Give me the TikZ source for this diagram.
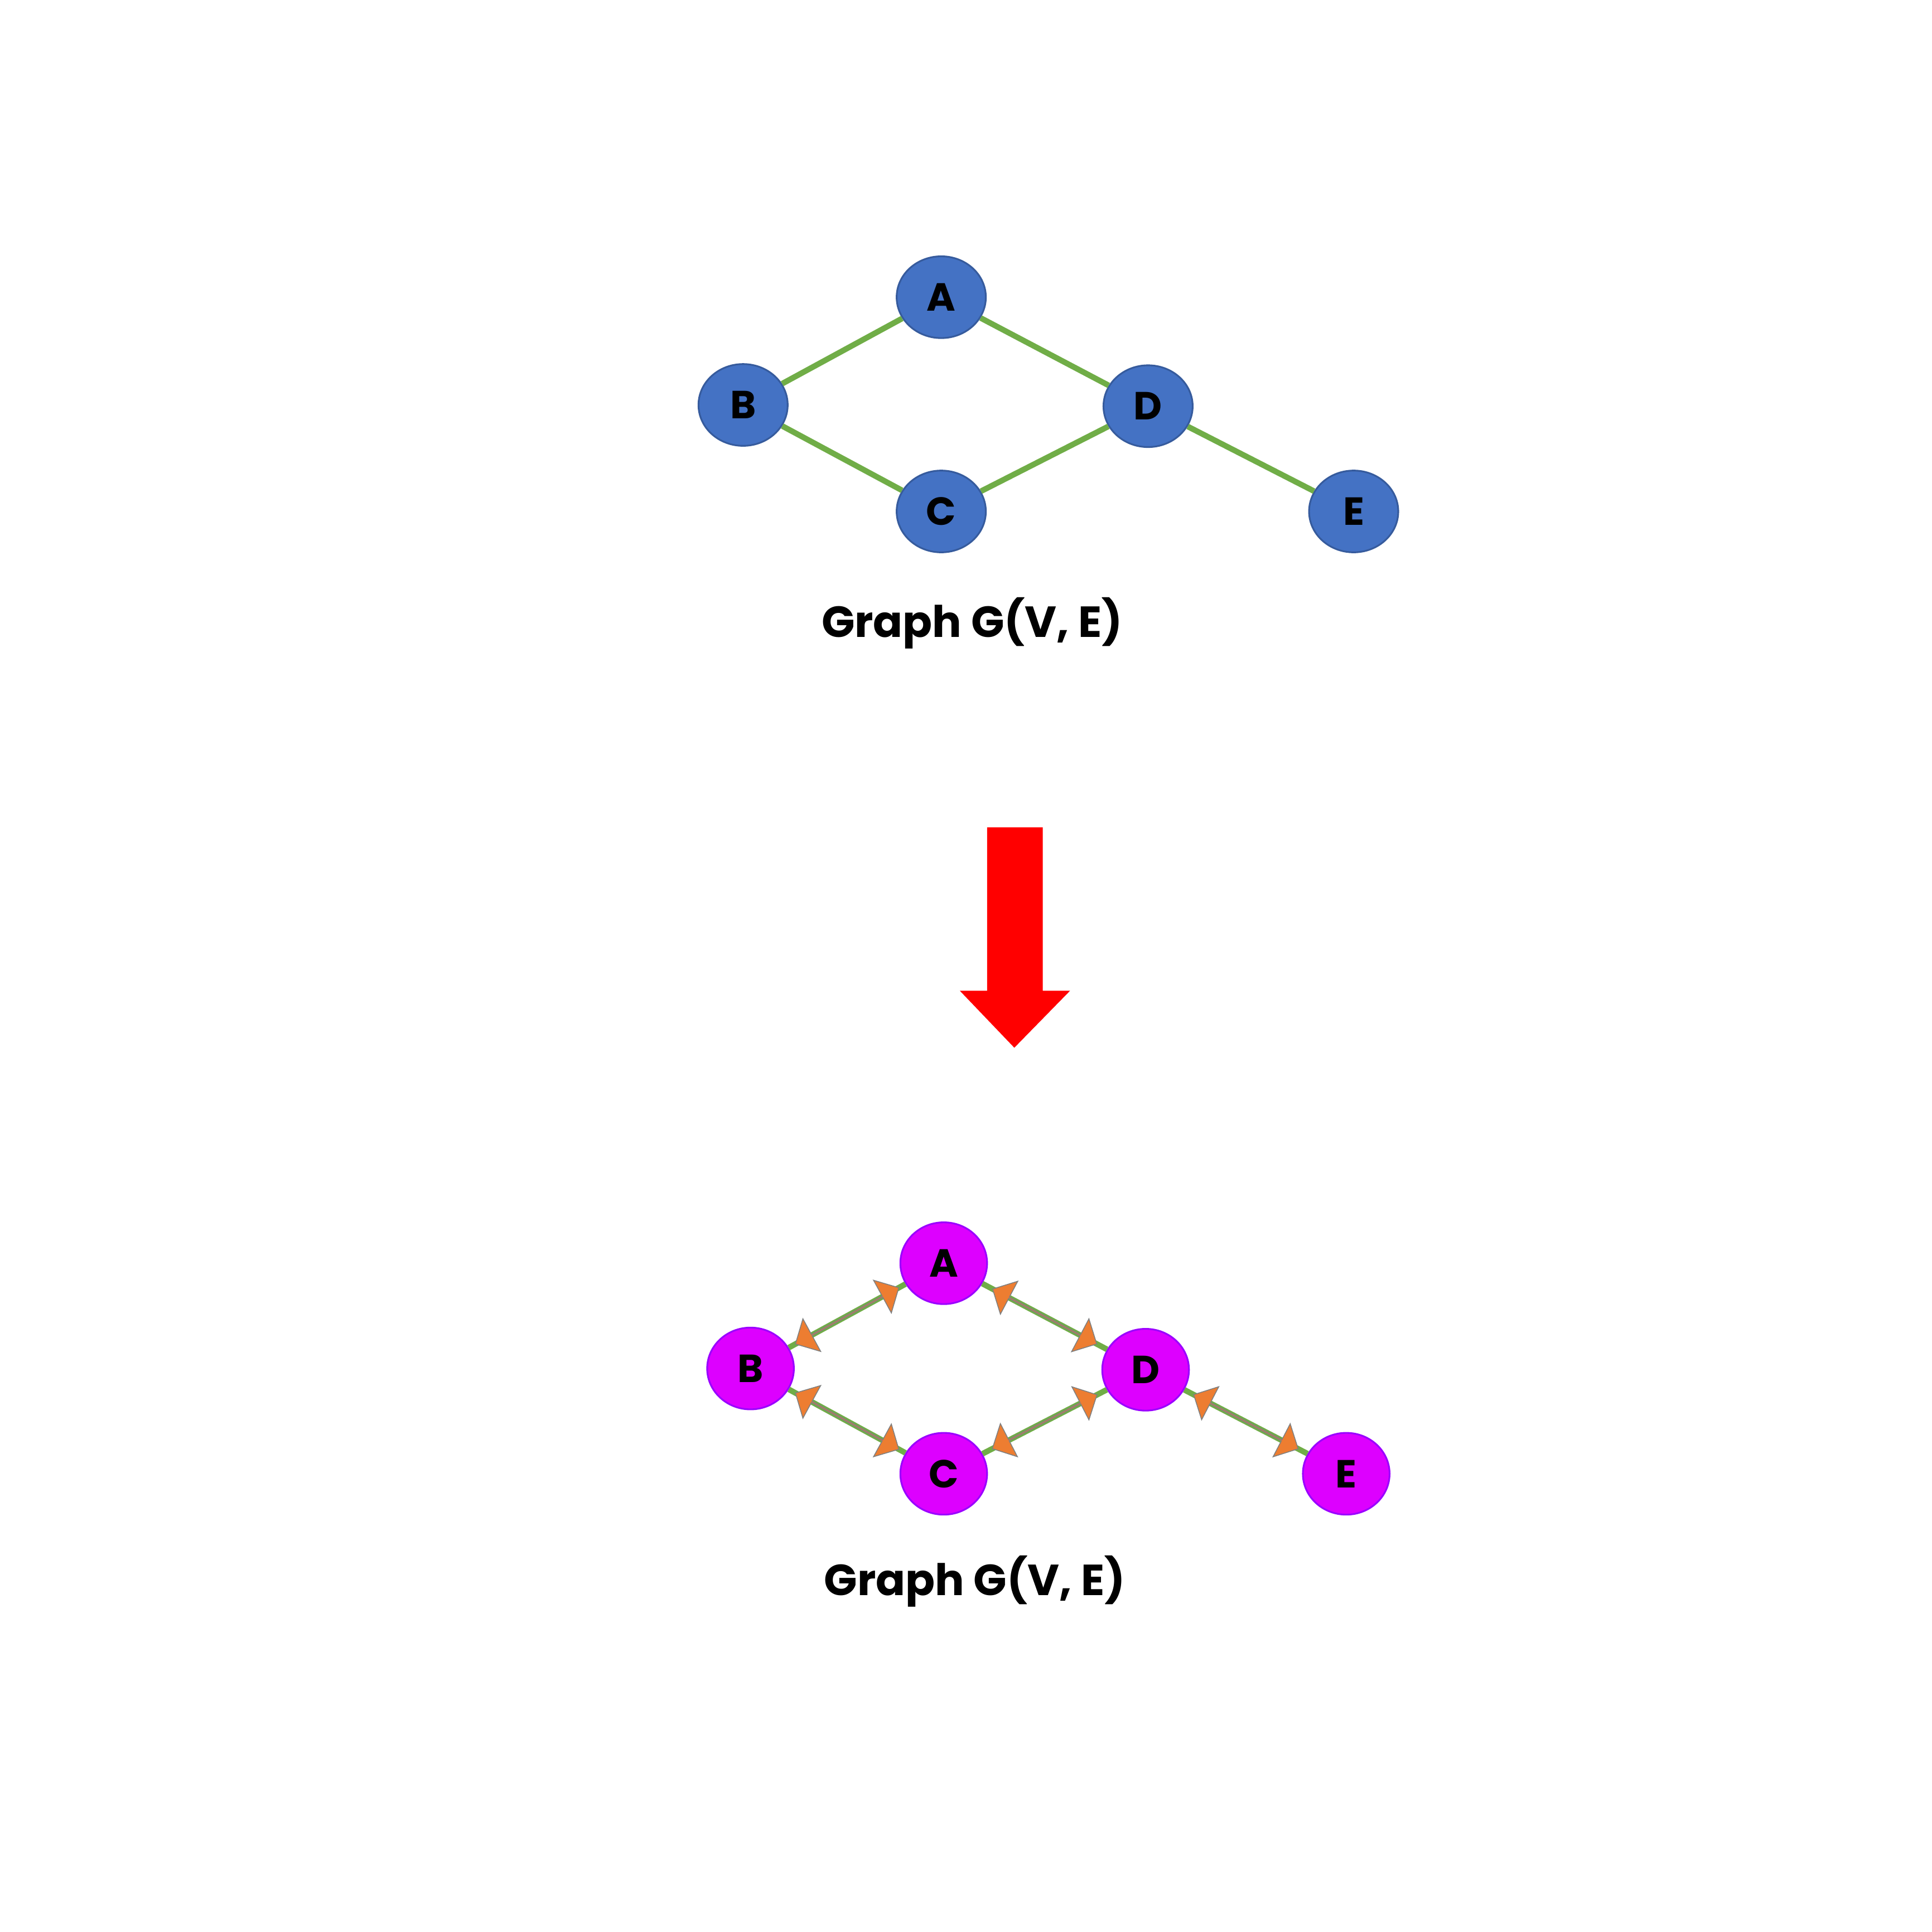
\documentclass[tikz,border=0pt]{standalone}
\usepackage{fontspec}
\setmainfont{Poppins}
\usetikzlibrary{shapes.arrows}

\definecolor{nodeblue}{HTML}{4472C4}
\definecolor{nodepink}{HTML}{DD00FF}
\definecolor{edgegreen}{HTML}{70AD47}
\definecolor{arroworange}{HTML}{ED7D31}

\tikzstyle{vblue} = [ellipse, minimum width=0.72cm, minimum height=0.66cm, fill=nodeblue, draw=nodeblue!80!black, font=\bfseries\fontsize{9}{9}\selectfont]
\tikzstyle{vpink} = [ellipse, minimum width=0.70cm, minimum height=0.66cm, fill=nodepink, draw=nodepink!70!blue, font=\bfseries\fontsize{9}{9}\selectfont]
\tikzstyle{edge} = [edgegreen, line width=1.3pt]
\tikzstyle{both} = [double arrow, fill=arroworange, draw=gray, very thin, minimum height=0.95cm, minimum width=0.30cm, double arrow head extend=0.09cm, inner sep=0pt, sloped]
\tikzstyle{caption} = [font=\bfseries\fontsize{10}{10}\selectfont]

\usetikzlibrary{shapes.geometric}

\begin{document}
\begin{tikzpicture}
		\useasboundingbox (0,0) rectangle (15.6,15.6);

		% first graph
		\node (a1) [vblue] at (7.60,13.20) {A};
		\node (b1) [vblue] at (6.00,12.33) {B};
		\node (d1) [vblue] at (9.27,12.32) {D};
		\node (c1) [vblue] at (7.60,11.47) {C};
		\node (e1) [vblue] at (10.93,11.47) {E};
		\node (g1) [caption] at (7.85,10.57) {Graph G(V, E)};
		\draw [edge] (b1) -- (a1);
		\draw [edge] (a1) -- (d1);
		\draw [edge] (b1) -- (c1);
		\draw [edge] (c1) -- (d1);
		\draw [edge] (d1) -- (e1);

		% red arrow
		\fill [red] (7.97,8.92) -- (8.42,8.92) -- (8.42,7.60) -- (8.64,7.60)
			-- (8.19,7.14) -- (7.75,7.60) -- (7.97,7.60) -- cycle;

		% second graph
		\node (a2) [vpink] at (7.62,5.40) {A};
		\node (b2) [vpink] at (6.06,4.55) {B};
		\node (d2) [vpink] at (9.25,4.54) {D};
		\node (c2) [vpink] at (7.62,3.70) {C};
		\node (e2) [vpink] at (10.87,3.70) {E};
		\node (g2) [caption] at (7.87,2.83) {Graph G(V, E)};
		\draw [edge] (b2) -- (a2) node [both, midway] {};
		\draw [edge] (a2) -- (d2) node [both, midway] {};
		\draw [edge] (b2) -- (c2) node [both, midway] {};
		\draw [edge] (c2) -- (d2) node [both, midway] {};
		\draw [edge] (d2) -- (e2) node [both, midway] {};
\end{tikzpicture}
\end{document}
